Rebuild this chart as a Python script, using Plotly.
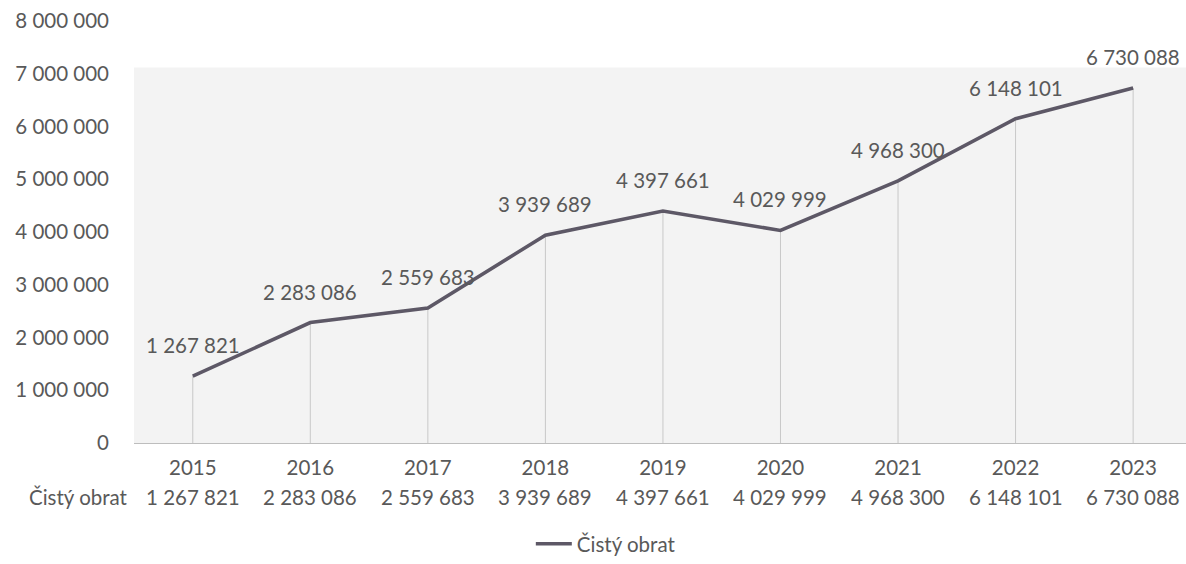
import plotly.graph_objects as go

years = ["2015", "2016", "2017", "2018", "2019", "2020", "2021", "2022", "2023"]
values = [1267821, 2283086, 2559683, 3939689, 4397661, 4029999, 4968300, 6148101, 6730088]
series_name = "Čistý obrat"
y_ticks = [0, 1000000, 2000000, 3000000, 4000000, 5000000, 6000000, 7000000, 8000000]


def fmt(v):
    return f"{v:,}".replace(",", " ")


FONT = "Lato"
FS = 20.5
TXT = "#595959"
LINE = "#5d5866"

fig = go.Figure()

# drop lines
fig.add_trace(go.Scatter(
    x=years, y=values, mode="markers",
    marker=dict(size=0.1, opacity=0),
    error_y=dict(type="data", symmetric=False, array=[0] * len(values),
                 arrayminus=values, width=0, thickness=1, color="#c8c8c8"),
    showlegend=False, hoverinfo="skip",
))

fig.add_trace(go.Scatter(
    x=years, y=values, mode="lines", name=series_name,
    line=dict(color=LINE, width=3.5),
))

annotations = []
for i, v in enumerate(values):
    annotations.append(dict(x=i, y=v, xref="x", yref="y", text=fmt(v),
                            showarrow=False, yshift=31,
                            font=dict(family=FONT, size=FS, color=TXT)))
    annotations.append(dict(x=i, y=0, xref="x", yref="paper", text=fmt(v),
                            showarrow=False, yshift=-54, yanchor="middle",
                            font=dict(family=FONT, size=FS, color=TXT)))
annotations.append(dict(x=0, y=0, xref="paper", yref="paper", text=series_name,
                        showarrow=False, yshift=-54, yanchor="middle",
                        xanchor="right", xshift=-4,
                        font=dict(family=FONT, size=FS, color=TXT)))

fig.update_layout(
    width=1186, height=564,
    margin=dict(l=134, r=0, t=21, b=121),
    paper_bgcolor="white", plot_bgcolor="white",
    separators=", ",
    font=dict(family=FONT, size=FS, color=TXT),
    showlegend=True,
    legend=dict(orientation="h", x=0.4485, xanchor="center", y=-0.24,
                yanchor="middle", font=dict(family=FONT, size=FS, color=TXT),
                itemwidth=36),
    annotations=annotations,
    shapes=[dict(type="rect", xref="paper", yref="y", x0=0, x1=1, y0=0, y1=7120000,
                 fillcolor="#f3f3f3", line=dict(width=0), layer="below")],
    xaxis=dict(type="category", range=[-0.5, 8.45], showgrid=False,
               showline=True, linecolor="#bdbdbd", linewidth=1,
               ticks="outside", ticklen=6, tickcolor="rgba(0,0,0,0)",
               tickfont=dict(family=FONT, size=FS, color=TXT), zeroline=False,
               automargin=False),
    yaxis=dict(range=[0, 8000000], tickvals=y_ticks,
               ticktext=[fmt(t) for t in y_ticks], showgrid=False,
               showline=False, zeroline=False, ticks="", ticklabelstandoff=24,
               tickfont=dict(family=FONT, size=FS, color=TXT), automargin=False),
)

fig.write_html("out.html", config={"displayModeBar": False},
               post_script="document.body.style.margin='0';document.body.style.overflow='hidden';")
